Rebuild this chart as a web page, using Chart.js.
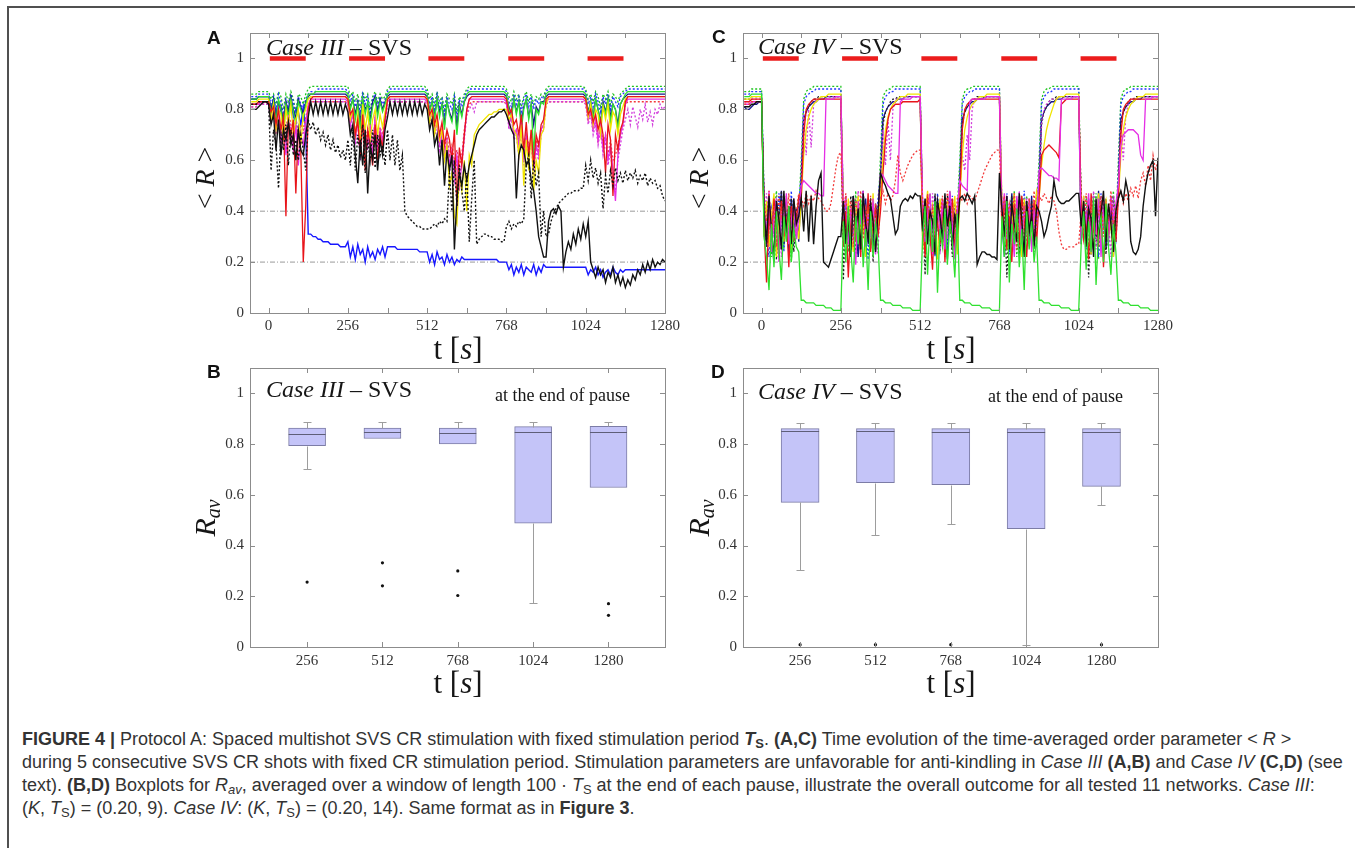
<!DOCTYPE html>
<html>
<head>
<meta charset="utf-8">
<script src="https://cdn.jsdelivr.net/npm/chart.js@4.4.1/dist/chart.umd.min.js"></script>
<style>
  html, body { margin:0; padding:0; background:#fff; }
  body { position:relative; width:1355px; height:848px; overflow:hidden; }
  .frame { position:absolute; left:7px; top:6px; width:1400px; height:900px; border-top:2px solid #505050; border-left:2px solid #505050; }
  .chart { position:absolute; }
  .chart canvas { display:block; }
  .txt { position:absolute; white-space:nowrap; line-height:1; color:#161616; font-family:"Liberation Serif","Times New Roman",serif; }
  .panel { font-family:"Liberation Sans",Arial,sans-serif; font-weight:bold; font-size:19px; color:#111; }
  .case { font-size:24px; }
  .note { font-size:18px; }
  .xt { font-size:31px; transform:translateX(-50%); }
  .yt { font-size:28px; transform:translate(-50%,-50%) rotate(-90deg); }
  .yt sub { font-size:20px; vertical-align:-0.25em; line-height:0; }
  .cap { position:absolute; left:22px; white-space:nowrap; line-height:1; font-family:"Liberation Sans",Arial,sans-serif; font-size:18px; color:#333; }
  .cap sub { font-size:0.72em; vertical-align:-0.25em; line-height:0; }
</style>
</head>
<body>
<div class="frame"></div>

<div class="chart" style="left:200px;top:25px"><canvas id="chartA" width="485" height="310"></canvas></div>
<div class="chart" style="left:692px;top:25px"><canvas id="chartC" width="486" height="310"></canvas></div>
<div class="chart" style="left:200px;top:360px"><canvas id="chartB" width="485" height="312"></canvas></div>
<div class="chart" style="left:692px;top:360px"><canvas id="chartD" width="486" height="312"></canvas></div>

<div class="txt panel" style="left:207px;top:28px">A</div>
<div class="txt panel" style="left:712px;top:27px">C</div>
<div class="txt panel" style="left:207px;top:362px">B</div>
<div class="txt panel" style="left:711px;top:362px">D</div>

<div class="txt case" style="left:266px;top:35px"><i>Case III</i> – SVS</div>
<div class="txt case" style="left:758px;top:34px"><i>Case IV</i> – SVS</div>
<div class="txt case" style="left:266px;top:377px"><i>Case III</i> – SVS</div>
<div class="txt case" style="left:758px;top:379px"><i>Case IV</i> – SVS</div>
<div class="txt note" style="left:495px;top:386px">at the end of pause</div>
<div class="txt note" style="left:988px;top:387px">at the end of pause</div>

<div class="txt xt" style="left:458px;top:333px">t [<i>s</i>]</div>
<div class="txt xt" style="left:951px;top:333px">t [<i>s</i>]</div>
<div class="txt xt" style="left:458px;top:667px">t [<i>s</i>]</div>
<div class="txt xt" style="left:951px;top:667px">t [<i>s</i>]</div>

<div class="txt yt" style="left:205px;top:178px">&lt; <i>R</i> &gt;</div>
<div class="txt yt" style="left:699px;top:178px">&lt; <i>R</i> &gt;</div>
<div class="txt yt" style="left:205px;top:518px;font-size:30px"><i>R</i><sub><i>av</i></sub></div>
<div class="txt yt" style="left:699px;top:518px;font-size:30px"><i>R</i><sub><i>av</i></sub></div>

<div class="cap" style="top:730px"><b>FIGURE 4 |</b> Protocol A: Spaced multishot SVS CR stimulation with fixed stimulation period <b><i>T</i><sub>S</sub></b>. <b>(A,C)</b> Time evolution of the time-averaged order parameter &lt; <i>R</i> &gt;</div>
<div class="cap" style="top:753px">during 5 consecutive SVS CR shots with fixed CR stimulation period. Stimulation parameters are unfavorable for anti-kindling in <i>Case III</i> <b>(A,B)</b> and <i>Case IV</i> <b>(C,D)</b> (see</div>
<div class="cap" style="top:776px">text). <b>(B,D)</b> Boxplots for <i>R</i><sub><i>av</i></sub>, averaged over a window of length 100 · <i>T</i><sub>S</sub> at the end of each pause, illustrate the overall outcome for all tested 11 networks. <i>Case III</i>:</div>
<div class="cap" style="top:799px">(<i>K</i>, <i>T</i><sub>S</sub>) = (0.20, 9). <i>Case IV</i>: (<i>K</i>, <i>T</i><sub>S</sub>) = (0.20, 14). Same format as in <b>Figure 3</b>.</div>

<script>
// ---- sample times (s): one sample every 8 s from -56 to 1280 ----
const tGrid = [];
for (let t = -56; t <= 1280; t += 8) tGrid.push(t);

// axis ticks
const xTickVals = [0, 128, 256, 384, 512, 640, 768, 896, 1024, 1152, 1280];
const xLabelVals = [0, 256, 512, 768, 1024, 1280];
const yTickVals = [0, 0.2, 0.4, 0.6, 0.8, 1];
const yTickLabels = ['0', '0.2', '0.4', '0.6', '0.8', '1'];

// stimulation shots (red bars at R = 1)
const stimOn  = [4, 260, 516, 774, 1030];
const stimOff = [120, 376, 632, 890, 1146];
const refLevels = [0.2, 0.4];

// ---- Case III, <R> x 100 ; rows: pre-stimulus, then blocks of 128 s ----
const aGreenDot = [
 86,86,86,87,87,87,87,
 87,84,86,82,87,85,80,86,83,87,84,79,86,85,82,86,
 88,89,89,89,89,89,89,89,89,89,89,89,89,89,89,89,
 89,85,87,83,86,81,87,84,86,80,85,87,83,86,84,85,
 88,89,89,89,89,89,89,89,89,89,89,89,89,89,89,89,
 88,84,86,82,87,83,85,80,86,84,82,86,79,85,83,86,
 88,89,89,89,89,89,89,89,89,89,89,89,89,89,89,89,
 88,85,83,87,84,86,81,85,87,83,86,82,85,84,86,85,
 88,89,89,89,89,89,89,89,89,89,89,89,89,89,89,89,
 88,84,86,83,87,85,81,86,84,87,82,86,85,83,86,87,
 88,89,89,89,89,89,89,89,89,89,89,89,89,89,89,89,
 89];
const aBlueDot = [
 85,85,85,86,86,86,86,
 86,82,85,80,86,83,78,84,81,86,83,77,85,82,80,84,
 86,87,87,87,88,88,88,88,88,88,88,88,88,88,88,88,
 87,83,86,81,84,79,86,82,85,78,84,86,81,85,82,84,
 87,88,88,88,88,88,88,88,88,88,88,88,88,88,88,88,
 87,82,85,80,86,81,84,78,85,82,80,85,77,84,81,85,
 87,88,88,88,88,88,88,88,88,88,88,88,88,88,88,88,
 87,83,81,86,82,85,79,84,86,81,85,80,84,82,85,84,
 87,88,88,88,88,88,88,88,88,88,88,88,88,88,88,88,
 87,82,85,81,86,83,79,85,82,86,80,85,83,81,85,86,
 87,88,88,88,88,88,88,88,88,88,88,88,88,88,88,88,
 88];
const aGreen = [
 84,84,84,85,85,85,85,
 85,78,83,75,84,80,72,82,77,84,79,74,83,80,76,82,
 86,86,86,87,87,87,87,87,87,87,87,87,87,87,87,87,
 86,80,84,76,82,72,84,78,83,74,81,84,77,83,79,82,
 86,87,87,87,87,87,87,87,87,87,87,87,87,87,87,87,
 86,79,83,76,84,77,82,72,83,78,75,82,70,81,77,83,
 86,87,87,87,87,87,87,87,87,87,87,87,87,87,87,87,
 86,80,76,84,78,83,72,80,84,76,82,62,80,78,83,82,
 86,87,87,87,87,87,87,87,87,87,87,87,87,87,87,87,
 86,78,83,76,84,80,74,82,78,84,75,82,80,72,82,84,
 86,87,87,87,87,87,87,87,87,87,87,87,87,87,87,87,
 87];
const aNavy = [
 84,84,84,85,85,85,85,
 85,80,84,77,83,81,75,83,79,85,80,76,84,81,78,83,
 85,86,86,86,86,86,86,86,86,86,86,86,86,86,86,86,
 85,81,84,78,83,75,84,80,82,76,83,85,79,84,80,83,
 85,86,86,86,86,86,86,86,86,86,86,86,86,86,86,86,
 85,80,83,77,84,79,82,74,83,79,76,83,73,82,78,83,
 85,86,86,86,86,86,86,86,86,86,86,86,86,86,86,86,
 85,81,78,84,79,83,75,81,84,77,82,74,81,79,83,83,
 85,86,86,86,86,86,86,86,86,86,86,86,86,86,86,86,
 85,79,83,77,84,80,75,83,79,84,77,82,80,74,82,84,
 85,86,86,86,86,86,86,86,86,86,86,86,86,86,86,86,
 86];
const aYellow = [
 83,83,83,84,84,84,84,
 84,76,82,72,80,78,68,80,74,82,70,76,80,66,78,80,
 84,85,85,85,85,85,85,85,85,85,85,85,85,85,85,85,
 84,76,80,70,78,66,82,72,79,68,76,80,70,78,73,79,
 84,85,85,85,85,85,85,85,85,85,85,85,85,85,85,85,
 84,75,80,70,76,68,72,60,66,50,55,38,35,55,48,60,
 40,62,58,70,72,74,75,76,77,78,78,79,79,80,80,80,
 80,76,78,72,70,62,74,50,68,56,72,48,60,55,70,72,
 82,85,85,85,85,85,85,85,85,85,85,85,85,85,85,85,
 84,77,82,74,80,78,70,81,76,82,72,79,77,70,78,81,
 84,85,85,85,85,85,85,85,85,85,85,85,85,85,85,85,
 85];
const aRed = [
 82,82,82,83,83,83,83,
 83,79,81,74,80,72,77,38,75,70,76,47,72,64,20,42,
 80,84,85,85,85,85,85,85,85,85,85,85,85,85,85,85,
 84,78,80,70,76,62,78,56,72,66,58,74,60,70,65,76,
 84,85,85,85,85,85,85,85,85,85,85,85,85,85,85,85,
 84,78,80,74,78,70,75,66,72,68,60,72,42,65,58,70,
 80,84,85,85,85,85,85,85,85,85,85,85,85,85,85,85,
 84,78,80,74,76,70,78,64,75,62,72,58,70,66,74,76,
 84,85,85,85,85,85,85,85,85,85,85,85,85,85,85,85,
 84,78,80,75,78,72,76,70,55,74,68,46,70,64,72,75,
 83,85,85,85,85,85,85,85,85,85,85,85,85,85,85,85,
 85];
const aMagenta = [
 82,82,82,82,83,83,83,
 83,76,80,72,78,66,74,62,76,70,64,74,58,70,66,74,
 82,84,84,84,84,84,84,84,84,84,84,84,84,84,84,84,
 83,74,79,68,76,62,80,70,66,74,60,78,64,72,68,76,
 83,84,84,84,84,84,84,84,84,84,84,84,84,84,84,84,
 83,76,80,72,74,66,70,62,68,58,64,55,62,48,60,70,
 80,84,84,84,84,84,84,84,84,84,84,84,84,84,84,84,
 83,74,78,70,72,66,76,60,70,64,68,56,66,62,72,74,
 83,84,84,84,84,84,84,84,84,84,84,84,84,84,84,84,
 83,76,80,72,76,68,74,64,70,60,66,56,44,62,70,74,
 82,84,84,84,84,84,84,84,84,84,84,84,84,84,84,84,
 84];
const aMagentaDot = [
 81,81,81,82,82,82,82,
 82,74,79,70,77,68,75,66,78,72,64,76,68,72,70,76,
 80,83,83,83,83,83,83,83,83,83,83,83,83,83,83,83,
 82,72,78,66,75,60,78,68,64,72,62,76,60,70,66,74,
 82,83,83,83,83,83,83,83,83,83,83,83,83,83,83,83,
 82,74,78,70,72,64,70,60,66,55,62,52,60,56,58,68,
 78,80,82,79,83,83,83,83,83,83,83,83,83,83,83,83,
 82,72,77,68,70,62,74,58,68,62,66,54,64,60,70,72,
 82,83,83,83,83,83,83,83,83,83,83,83,83,83,83,83,
 82,74,78,70,74,66,72,62,68,58,64,52,48,60,66,72,
 76,80,74,81,77,73,80,76,82,75,79,74,80,78,82,80,
 81];
const aRedDot = [
 81,81,81,82,82,82,82,
 82,76,80,74,78,70,77,72,79,74,68,77,70,74,72,77,
 81,83,83,83,83,83,83,83,83,83,83,83,83,83,83,83,
 82,74,79,70,77,66,79,72,68,75,64,77,66,73,70,76,
 82,83,83,83,83,83,83,83,83,83,83,83,83,83,83,83,
 82,76,79,72,75,68,72,64,70,62,66,60,64,58,62,72,
 78,82,83,83,83,83,83,83,83,83,83,83,83,83,83,83,
 82,74,78,70,72,66,76,62,70,66,68,60,68,64,72,74,
 82,83,83,83,83,83,83,83,83,83,83,83,83,83,83,83,
 82,76,79,72,76,68,74,66,70,62,68,60,62,66,70,74,
 82,83,83,83,83,83,83,83,83,83,83,83,83,83,83,83,
 83];
const aBlack = [
 80,80,80,81,82,83,83,
 82,74,78,64,76,62,72,68,75,66,70,60,72,64,62,70,
 77,83,78,83,78,83,78,83,78,83,78,83,78,83,78,82,
 79,70,74,62,51,68,58,72,47,66,60,70,56,68,62,72,
 77,83,78,83,78,83,78,83,78,83,78,83,78,83,78,82,
 80,72,76,66,70,58,68,50,64,56,62,25,45,55,50,58,
 52,58,62,66,70,72,73,74,75,76,77,77,78,79,79,80,
 78,75,72,70,45,62,66,64,58,60,52,48,40,30,26,22,
 22,36,40,41,39,42,40,18,24,28,25,31,27,33,29,35,
 30,36,20,17,14,18,15,17,12,16,14,18,12,15,11,14,
 10,13,11,15,13,17,15,19,16,20,17,21,18,20,19,21,
 20];
const aBlackDot = [
 82,82,82,83,83,83,83,
 83,56,72,66,49,70,64,74,58,72,62,68,60,70,64,56,
 76,72,75,70,73,68,71,66,70,64,68,63,66,61,64,60,
 68,58,72,56,70,62,74,55,68,60,72,57,70,62,66,58,
 72,60,70,58,68,56,62,40,38,37,36,35,34,34,33,33,
 33,33,34,35,34,36,35,37,36,55,40,60,42,58,48,40,
 55,28,45,60,27,29,30,31,31,30,30,29,29,29,28,28,
 34,36,33,35,34,36,35,37,58,62,45,60,50,55,30,40,
 30,31,36,39,41,43,44,45,46,47,47,48,48,48,49,49,
 58,52,60,53,57,51,55,41,54,47,56,50,57,52,55,51,
 56,52,55,53,56,51,54,52,55,50,53,51,52,49,50,46,
 44];
const aBlue = [
 84,84,84,85,85,85,85,
 85,80,84,78,83,79,76,82,78,84,77,80,79,74,81,72,
 31,31,30,30,29,29,28,28,28,27,27,27,27,26,26,26,
 28,22,26,21,27,23,25,20,26,22,24,21,25,23,26,22,
 26,26,26,26,25,25,25,25,25,25,25,25,25,24,24,24,
 24,20,23,19,24,21,22,19,23,20,22,19,21,20,22,21,
 21,21,21,21,21,21,21,21,21,21,21,21,21,20,20,20,
 20,17,19,15,18,16,19,15,18,17,16,19,15,18,16,19,
 18,18,18,18,18,18,18,18,18,18,18,18,18,18,18,18,
 18,15,17,16,18,15,17,14,16,17,15,18,16,15,17,16,
 17,17,17,17,17,17,17,17,17,17,17,17,17,17,17,17,
 17];

// ---- Case IV, <R> x 100 ----
const cGreenDot = [
 87,87,87,88,88,88,88,
 88,40,28,45,22,38,48,30,42,25,46,35,20,44,32,40,
 60,84,87,88,88,89,89,89,89,89,89,89,89,89,89,89,
 89,35,46,24,40,30,48,22,43,36,27,45,33,42,26,38,
 62,85,87,88,88,89,89,89,89,89,89,89,89,89,89,89,
 89,42,26,38,47,24,36,44,30,45,22,39,48,28,35,41,
 60,84,87,88,88,89,89,89,89,89,89,89,89,89,89,89,
 89,38,45,27,41,33,48,22,37,44,29,46,31,40,24,43,
 60,84,87,88,88,89,89,89,89,89,89,89,89,89,89,89,
 89,44,30,46,24,39,35,47,21,42,33,45,26,38,48,32,
 60,84,87,88,88,89,89,89,89,89,89,89,89,89,89,89,
 89];
const cBlueDot = [
 86,86,86,87,87,87,87,
 87,45,32,22,41,35,26,47,38,24,43,30,48,27,36,42,
 55,82,85,86,87,87,88,88,88,88,88,88,88,88,88,88,
 88,28,41,35,22,46,31,39,26,48,34,21,44,37,29,45,
 55,82,85,86,87,87,88,88,88,88,88,88,88,88,88,88,
 88,36,24,45,31,40,22,47,35,28,43,25,39,46,30,37,
 55,82,85,86,87,87,88,88,88,88,88,88,88,88,88,88,
 88,41,29,47,23,38,44,30,36,25,48,33,27,42,35,39,
 55,82,85,86,87,87,88,88,88,88,88,88,88,88,88,88,
 88,33,46,25,40,28,44,36,22,47,31,38,26,45,34,29,
 55,82,85,86,87,87,88,88,88,88,88,88,88,88,88,88,
 88];
const cNavy = [
 81,80,80,81,82,82,83,
 83,38,26,44,30,20,42,35,48,27,39,24,45,33,41,28,
 50,76,79,81,82,83,83,84,84,84,85,85,85,85,85,85,
 85,43,29,37,25,46,34,22,40,31,45,27,38,24,43,36,
 50,76,79,81,82,83,83,84,84,84,85,85,85,85,85,85,
 85,30,44,27,39,23,46,35,28,42,33,21,47,36,25,40,
 50,76,79,81,82,83,83,84,84,84,85,85,85,85,85,85,
 85,36,22,41,33,47,26,38,44,29,24,43,31,46,28,37,
 50,76,79,81,82,83,83,84,84,84,85,85,85,85,85,85,
 85,27,42,34,45,23,37,29,48,32,40,25,36,43,22,39,
 50,76,79,81,82,83,83,84,84,84,85,85,85,85,85,85,
 85];
const cYellow = [
 84,84,84,85,85,85,85,
 85,30,44,26,38,47,22,35,41,28,46,33,24,40,37,29,
 45,62,72,77,80,82,83,84,85,85,85,86,86,86,86,86,
 86,40,27,45,32,24,38,46,29,35,22,43,31,47,26,34,
 45,62,72,77,80,82,83,84,85,85,85,86,86,86,86,86,
 86,25,39,48,30,42,34,21,45,37,27,44,32,38,46,23,
 45,62,72,77,80,82,83,84,85,85,85,86,86,86,86,86,
 86,44,31,26,40,35,47,29,38,22,45,33,41,27,36,48,
 45,58,66,72,76,79,82,84,85,85,85,86,86,86,86,86,
 86,34,46,28,37,23,41,31,47,26,39,44,30,35,22,42,
 45,62,72,77,80,82,83,84,85,85,85,86,86,86,86,86,
 86];
const cRed = [
 83,83,83,84,84,84,84,
 84,33,12,40,26,45,35,22,44,30,38,18,42,28,36,46,
 45,70,80,82,83,84,84,84,84,84,84,84,84,84,84,84,
 84,26,40,14,35,45,28,38,22,43,31,47,24,36,41,30,
 40,55,68,76,80,81,82,82,82,83,83,83,83,83,83,83,
 84,38,22,46,31,17,42,35,27,44,20,39,33,45,25,36,
 45,72,80,82,83,84,84,84,84,84,84,84,84,84,84,84,
 84,30,45,25,38,20,43,34,28,46,37,22,41,32,44,27,
 45,62,64,65,66,65,64,63,61,82,83,84,84,84,84,84,
 84,43,29,36,21,47,33,40,26,44,18,38,30,45,35,28,
 45,70,80,82,83,84,84,84,84,84,84,84,84,84,84,84,
 84];
const cMagenta = [
 82,82,82,83,83,83,83,
 83,42,31,48,24,37,45,20,40,33,47,27,36,43,29,38,
 50,52,51,50,49,48,47,47,46,46,84,84,84,84,85,85,
 85,37,46,27,41,32,19,44,35,48,26,39,30,45,23,40,
 55,54,52,50,49,48,47,47,83,84,84,84,84,85,85,85,
 85,44,28,39,47,23,36,42,31,45,25,38,48,34,21,41,
 52,50,49,48,83,84,84,84,84,84,84,85,85,85,85,85,
 85,39,47,29,43,34,22,46,37,27,42,31,45,24,40,35,
 56,57,56,55,54,54,53,53,52,84,84,84,84,84,85,85,
 85,29,43,36,47,24,39,31,45,22,41,34,28,46,37,43,
 50,66,70,71,72,72,72,71,70,62,60,84,84,84,85,85,
 85];
const cMagentaDot = [
 83,83,83,84,84,84,84,
 84,36,47,25,41,30,44,38,22,46,33,40,27,45,31,37,
 50,78,62,80,65,82,84,84,84,84,84,85,85,85,85,85,
 85,46,33,41,27,44,36,48,24,39,31,45,28,42,35,23,
 50,72,58,76,60,80,84,84,84,84,85,85,85,85,85,85,
 85,31,45,38,26,47,34,41,23,44,37,29,46,33,40,27,
 50,62,56,70,60,80,84,84,84,84,85,85,85,85,85,85,
 85,43,30,46,36,24,42,33,48,28,39,45,26,37,31,44,
 50,75,80,82,83,84,84,84,85,85,85,85,85,85,85,85,
 85,38,46,27,43,32,48,25,40,35,44,29,37,22,46,33,
 50,72,60,78,82,84,84,84,85,85,85,85,85,85,85,85,
 85];
const cRedDot = [
 82,82,82,83,83,83,83,
 83,44,36,48,30,42,26,46,38,45,33,47,28,43,39,47,
 45,42,47,43,46,44,48,45,44,42,40,40,43,50,57,62,
 63,38,47,32,44,26,45,36,48,29,41,35,46,31,43,39,
 45,48,43,47,44,46,52,62,55,52,55,58,60,62,63,64,
 64,45,30,47,35,41,27,44,38,46,32,48,36,42,29,45,
 46,44,47,43,46,45,44,47,50,53,56,58,60,62,63,64,
 64,36,46,30,43,38,47,25,44,34,41,28,45,37,48,33,
 46,44,47,45,43,46,44,40,32,27,25,25,26,26,26,27,
 27,40,31,47,35,44,26,42,38,46,30,43,36,48,33,41,
 45,48,43,47,44,49,46,50,45,52,55,50,58,52,62,56,
 60];
const cGreen = [
 85,85,85,86,86,86,86,
 86,30,22,9,35,18,40,25,13,38,28,42,20,33,26,24,
 5,5,4,4,4,4,3,3,3,3,2,2,2,1,1,1,
 1,36,20,42,25,12,38,27,45,18,33,9,40,22,35,28,
 5,5,4,4,4,3,3,3,3,2,2,2,2,1,1,1,
 1,30,42,15,37,24,44,8,33,26,41,19,36,28,14,39,
 5,5,4,4,4,3,3,3,3,2,2,2,2,1,1,1,
 1,38,22,44,12,35,27,41,18,33,9,40,25,36,20,30,
 5,5,4,4,4,3,3,3,3,2,2,2,2,1,1,1,
 1,27,40,17,36,24,45,11,32,38,20,43,26,15,35,24,
 5,5,4,4,4,3,3,3,3,2,2,2,2,1,1,1,
 1];
const cBlack = [
 81,81,81,82,82,83,83,
 83,40,28,46,33,22,44,37,25,48,31,42,27,45,35,38,
 45,32,48,28,46,27,42,52,55,20,19,18,21,24,27,30,
 30,44,27,38,22,46,33,41,25,47,35,29,43,36,24,40,
 55,52,50,47,45,38,31,33,42,44,45,44,46,45,47,46,
 46,32,45,27,40,36,23,44,38,29,47,34,42,25,39,31,
 45,46,44,47,45,43,46,19,22,24,24,23,23,22,22,21,
 55,41,30,46,25,43,35,28,47,37,22,44,32,39,26,42,
 40,36,30,33,38,42,52,46,44,43,43,44,44,45,46,47,
 47,34,44,26,41,37,22,45,30,39,48,28,43,35,24,40,
 45,48,44,52,47,28,24,23,25,30,42,50,55,58,60,38,
 61];
const cBlackDot = [
 84,84,84,85,85,85,85,
 85,47,26,39,31,44,21,36,48,28,41,33,45,24,38,43,
 48,74,79,81,83,84,84,85,85,85,85,85,85,85,85,85,
 85,13,40,29,46,35,22,43,31,48,27,38,45,20,41,34,
 48,74,79,81,83,84,84,85,85,85,85,85,85,85,85,85,
 85,41,15,44,33,27,47,36,24,42,30,46,38,22,43,35,
 48,74,79,81,83,84,84,85,85,85,85,85,85,85,85,85,
 85,35,43,14,38,46,29,41,23,45,33,37,27,44,31,47,
 48,74,79,81,83,84,84,85,85,85,85,85,85,85,85,85,
 85,44,29,40,14,36,47,26,42,32,45,23,39,34,46,28,
 48,74,79,81,83,84,84,85,85,85,85,85,85,85,85,85,
 85];

// ---- boxplots of R_av at the end of each pause ----
const boxPos = [256, 512, 768, 1024, 1280];
const b3WhiskHi = [0.887, 0.887, 0.887, 0.887, 0.887];
const b3Q3      = [0.863, 0.863, 0.863, 0.869, 0.870];
const b3Median  = [0.840, 0.849, 0.843, 0.846, 0.849];
const b3Q1      = [0.794, 0.822, 0.801, 0.488, 0.629];
const b3WhiskLo = [0.700, 0.822, 0.801, 0.175, 0.629];
const b3Outliers = [[0.256], [0.332, 0.241], [0.300, 0.203], [], [0.171, 0.125]];

const b4WhiskHi = [0.883, 0.883, 0.883, 0.883, 0.883];
const b4Q3      = [0.861, 0.861, 0.861, 0.861, 0.861];
const b4Median  = [0.850, 0.850, 0.846, 0.848, 0.848];
const b4Q1      = [0.570, 0.648, 0.640, 0.467, 0.633];
const b4WhiskLo = [0.303, 0.440, 0.484, 0.007, 0.560];
const b4Outliers = [[0.009], [0.009], [0.009], [], [0.009]];

// ---------------------------------------------------------------
Chart.defaults.font.family = '"Liberation Serif", "Times New Roman", serif';
Chart.defaults.color = '#333';

const tickFont = { size: 15 };

// inward tick marks and the grey box round the plot area
const frameTicks = {
  id: 'frameTicks',
  afterDatasetsDraw(chart) {
    const { ctx, chartArea: a, scales: { x, y } } = chart;
    ctx.save();
    ctx.strokeStyle = '#8c8c8c';
    ctx.lineWidth = 1;
    ctx.beginPath();
    x.ticks.forEach(t => {
      const px = Math.round(x.getPixelForValue(t.value)) + 0.5;
      ctx.moveTo(px, a.bottom); ctx.lineTo(px, a.bottom - 5);
      ctx.moveTo(px, a.top); ctx.lineTo(px, a.top + 5);
    });
    y.ticks.forEach(t => {
      const py = Math.round(y.getPixelForValue(t.value)) + 0.5;
      ctx.moveTo(a.left, py); ctx.lineTo(a.left + 5, py);
      ctx.moveTo(a.right, py); ctx.lineTo(a.right - 5, py);
    });
    ctx.stroke();
    ctx.strokeRect(Math.round(a.left) + 0.5, Math.round(a.top) + 0.5,
                   Math.round(a.right - a.left), Math.round(a.bottom - a.top));
    ctx.restore();
  }
};

function yScale(axisWidth) {
  return {
    type: 'linear', min: 0, max: 1.1,
    grid: { display: false, drawTicks: false }, border: { display: false },
    afterBuildTicks: s => { s.ticks = yTickVals.map(v => ({ value: v })); },
    afterFit: s => { s.width = axisWidth; s.paddingTop = 0; s.paddingBottom = 0; },
    ticks: { font: tickFont, color: '#333', padding: 6,
             callback: (v, i) => yTickLabels[yTickVals.indexOf(v)] ?? '' }
  };
}

function xScale(min, max, tickVals, labelVals, axisHeight, pad) {
  return {
    type: 'linear', min, max, offset: false,
    grid: { display: false, drawTicks: false }, border: { display: false },
    afterBuildTicks: s => { s.ticks = tickVals.map(v => ({ value: v })); },
    afterFit: s => { s.height = axisHeight; s.paddingLeft = 0; s.paddingRight = 0; },
    ticks: { font: tickFont, color: '#333', padding: pad, autoSkip: false, maxRotation: 0,
             callback: v => labelVals.includes(v) ? String(v) : '' }
  };
}

function series(vals, color, dotted, width) {
  return {
    data: vals.map((v, i) => ({ x: tGrid[i], y: v / 100 })),
    borderColor: color, borderWidth: width || 1.3,
    borderDash: dotted ? [2, 2] : [],
    pointRadius: 0, fill: false, tension: 0
  };
}

function stimDataset() {
  const pts = [];
  stimOn.forEach((s, i) => {
    pts.push({ x: s, y: 1 }, { x: stimOff[i], y: 1 }, { x: stimOff[i], y: null });
  });
  return { data: pts, borderColor: '#ec1c1c', borderWidth: 4.5, pointRadius: 0,
           borderCapStyle: 'butt', spanGaps: false };
}

function refDatasets() {
  return refLevels.map(r => ({
    data: [{ x: -60, y: r }, { x: 1280, y: r }],
    borderColor: '#9a9a9a', borderWidth: 1, borderDash: [5, 2, 1, 2], pointRadius: 0
  }));
}

function timeChart(id, lines, axisW) {
  new Chart(document.getElementById(id), {
    type: 'line',
    data: { datasets: [stimDataset(), ...lines, ...refDatasets()] },
    options: {
      responsive: false, animation: false, events: [],
      layout: { padding: { top: 8, right: 20, left: 0, bottom: 0 } },
      plugins: { legend: { display: false }, tooltip: { enabled: false } },
      scales: { x: xScale(-60, 1280, xTickVals, xLabelVals, 22, 4), y: yScale(axisW) }
    },
    plugins: [frameTicks]
  });
}

const C_GREEN = '#2fe02f', C_GREEN_D = '#1fc41f', C_BLUE_D = '#2236ff', C_NAVY = '#16168a',
      C_YELLOW = '#f0e400', C_RED = '#e8141a', C_RED_D = '#f23a3a', C_MAG = '#e52ee5',
      C_MAG_D = '#d23cdc', C_BLACK = '#111111', C_BLUE = '#1717ff';

// top-most first
timeChart('chartA', [
  series(aBlack, C_BLACK, false, 1.4),
  series(aBlackDot, C_BLACK, true, 1.4),
  series(aRed, C_RED, false),
  series(aYellow, C_YELLOW, false),
  series(aMagenta, C_MAG, false),
  series(aMagentaDot, C_MAG_D, true),
  series(aGreen, C_GREEN, false),
  series(aRedDot, C_RED_D, true),
  series(aNavy, C_NAVY, false),
  series(aBlueDot, C_BLUE_D, true),
  series(aGreenDot, C_GREEN_D, true),
  series(aBlue, C_BLUE, false, 1.4)
], 50);

timeChart('chartC', [
  series(cGreen, C_GREEN, false),
  series(cBlack, C_BLACK, false, 1.4),
  series(cRedDot, C_RED_D, true),
  series(cMagenta, C_MAG, false),
  series(cRed, C_RED, false),
  series(cYellow, C_YELLOW, false),
  series(cMagentaDot, C_MAG_D, true),
  series(cBlackDot, '#222222', true),
  series(cNavy, C_NAVY, false),
  series(cBlueDot, C_BLUE_D, true),
  series(cGreenDot, C_GREEN_D, true)
], 51);

// whiskers, caps and median lines drawn on the bar elements of each box
function whiskerPlugin(stats) {
  return {
    id: 'whiskers',
    afterDatasetsDraw(chart) {
      const meta = chart.getDatasetMeta(0);
      const y = chart.scales.y;
      const ctx = chart.ctx;
      ctx.save();
      ctx.lineWidth = 1;
      meta.data.forEach((bar, i) => {
        const cx = Math.round(bar.x) + 0.5;
        const half = bar.width / 2;
        const py = v => Math.round(y.getPixelForValue(v)) + 0.5;
        ctx.strokeStyle = '#9d9d9d';
        ctx.beginPath();
        if (stats.hi[i] > stats.q3[i]) {
          ctx.moveTo(cx, py(stats.q3[i])); ctx.lineTo(cx, py(stats.hi[i]));
          ctx.moveTo(cx - 4, py(stats.hi[i])); ctx.lineTo(cx + 4, py(stats.hi[i]));
        }
        if (stats.lo[i] < stats.q1[i]) {
          ctx.moveTo(cx, py(stats.q1[i])); ctx.lineTo(cx, py(stats.lo[i]));
          ctx.moveTo(cx - 4, py(stats.lo[i])); ctx.lineTo(cx + 4, py(stats.lo[i]));
        }
        ctx.stroke();
        ctx.strokeStyle = '#5e5e78';
        ctx.beginPath();
        ctx.moveTo(bar.x - half, py(stats.med[i])); ctx.lineTo(bar.x + half, py(stats.med[i]));
        ctx.stroke();
      });
      ctx.restore();
    }
  };
}

function boxChart(id, q1, q3, med, lo, hi, outliers, axisW, thick) {
  const outPts = [];
  outliers.forEach((list, i) => list.forEach(v => outPts.push({ x: boxPos[i], y: v })));
  new Chart(document.getElementById(id), {
    type: 'bar',
    data: {
      datasets: [
        { type: 'bar', data: boxPos.map((p, i) => ({ x: p, y: [q1[i], q3[i]] })),
          backgroundColor: '#c4c4f8', borderColor: '#7c7ca6', borderWidth: 1,
          borderSkipped: false, barThickness: thick },
        { type: 'scatter', data: outPts, pointRadius: 1.6, pointBackgroundColor: '#111',
          pointBorderWidth: 0 }
      ]
    },
    options: {
      responsive: false, animation: false, events: [],
      layout: { padding: { top: 8, right: 20, left: 0, bottom: 0 } },
      plugins: { legend: { display: false }, tooltip: { enabled: false } },
      scales: { x: xScale(62, 1472, boxPos, boxPos, 25, 5), y: yScale(axisW) }
    },
    plugins: [frameTicks, whiskerPlugin({ q1, q3, med, lo, hi })]
  });
}

boxChart('chartB', b3Q1, b3Q3, b3Median, b3WhiskLo, b3WhiskHi, b3Outliers, 50, 37);
boxChart('chartD', b4Q1, b4Q3, b4Median, b4WhiskLo, b4WhiskHi, b4Outliers, 51, 38);
</script>
</body>
</html>
